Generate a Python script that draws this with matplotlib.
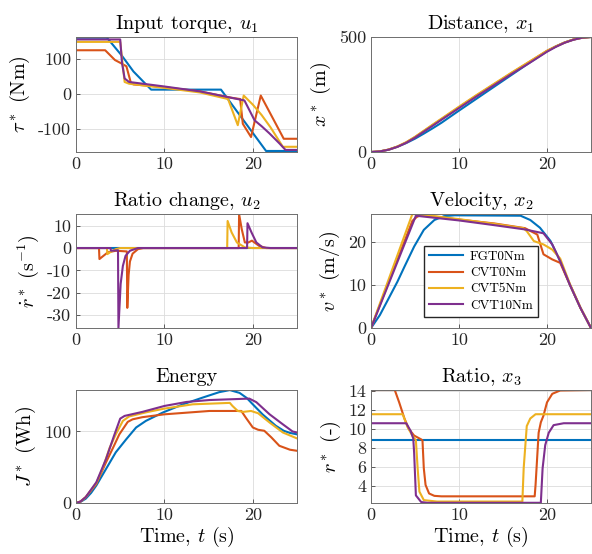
import matplotlib
matplotlib.use("Agg")
import matplotlib.pyplot as plt

plt.rcParams.update({
    "font.family": "serif",
    "font.serif": ["cmr10"],
    "mathtext.fontset": "cm",
    "axes.unicode_minus": False,
    "axes.formatter.use_mathtext": False,
    "font.size": 13,
})

labels = ["FGT0Nm", "CVT0Nm", "CVT5Nm", "CVT10Nm"]
colors = ["#0072BD", "#D95319", "#EDB120", "#7E2F8E"]

# ---- input torque, u1 (Nm)
t_tau_fgt = [0, 3.5, 5.2, 6.5, 8.5, 16.4, 21.5, 25]
tau_fgt = [162, 162, 110, 65, 13, 13, -163, -163]
t_tau_cvt0 = [0, 3.3, 4.4, 5.0, 5.7, 6.2, 6.5, 10, 14, 17.5, 18.57, 18.87, 19.8, 20.9, 23.5, 25]
tau_cvt0 = [126, 126, 98, 90, 80, 33, 28, 20, 8, -10, -14, -85, -123, -4, -128, -128]
t_tau_cvt5 = [0, 5.0, 5.5, 6.0, 10, 14, 17.2, 18.3, 18.97, 20, 21, 22, 23.4, 25]
tau_cvt5 = [150, 150, 35, 30, 18, 5, -14, -89, -4, -30, -60, -95, -151, -151]
t_tau_cvt10 = [0, 5.0, 5.2, 5.5, 6.0, 10, 14, 19.05, 20.2, 21.0, 21.9, 23.0, 23.7, 25]
tau_cvt10 = [157, 157, 90, 45, 35, 22, 8, -18, -75, -92, -113, -141, -160, -160]

# ---- distance, x1 (m)
t_dist = [0, 1, 2, 3, 4, 5, 6, 7, 8, 10, 12, 14, 16, 18, 20, 21, 22, 23, 24, 25]
dist_fgt = [0, 2.5, 10, 23, 39, 58, 80, 103, 127, 180, 232, 284, 336, 388, 438, 459, 476, 489, 497, 500]
dist_cvt0 = [0, 2.6, 10.5, 23.5, 42, 65, 91, 117, 143, 195, 246, 295, 344, 392, 440, 459, 476, 489, 497, 500]
dist_cvt5 = [0, 2.7, 10.7, 24, 42.5, 66, 92.5, 119, 145, 197, 248, 297, 346, 393, 440, 459, 476, 489, 497, 500]
dist_cvt10 = [0, 2.5, 10, 22.5, 40, 62.5, 88.5, 114, 140, 191, 242, 291, 340, 387, 436, 457, 475, 488, 497, 500]

# ---- ratio change, u2 (1/s)
t_du_fgt = [0, 25]
du_fgt = [0, 0]
t_du_cvt0 = [0, 2.6, 2.65, 3.6, 4.5, 5.75, 5.8, 5.95, 6.1, 6.4, 7.0, 7.6, 18.4, 18.45, 18.75, 19.1, 19.5, 19.9, 20.7, 21.5, 25]
du_cvt0 = [0, 0, -4.9, -1.9, -1.2, -1.5, -26.7, -12, -6, -2.5, -0.5, 0, 0, 15.1, 8.4, 2.5, 2.5, 3.3, 1, 0, 0]
t_du_cvt5 = [0, 3.5, 3.55, 4.0, 4.5, 5.0, 17.1, 17.15, 17.6, 18.2, 19.1, 20, 25]
du_cvt5 = [0, 0, -2.7, -1.5, -0.5, 0, 0, 12.1, 7, 2.5, 0.3, 0, 0]
t_du_cvt10 = [0, 3.9, 3.95, 4.75, 4.8, 5.05, 5.3, 5.6, 6.1, 7.0, 19.35, 19.4, 19.85, 20.4, 21.1, 22, 25]
du_cvt10 = [0, 0, -1.2, -1.0, -35.7, -16, -8, -3.5, -1.2, 0, 0, 11.1, 7, 2.5, 0.3, 0, 0]

# ---- velocity, x2 (m/s)
t_v_fgt = [0, 1, 1.9, 3, 3.8, 4.9, 6, 7.2, 8.3, 9.5, 17, 18.1, 19.2, 20.4, 21.5, 22.6, 23.8, 25]
v_fgt = [0, 3, 6.5, 10.8, 14.3, 19, 22.9, 25.2, 26.1, 26.3, 26.2, 25.2, 23.4, 20.3, 15.6, 10.1, 4.7, 0]
t_v_cvt0 = [0, 4.7, 5.2, 5.7, 10, 14, 17.5, 18.9, 19.6, 20.6, 21.5, 22.6, 23.8, 25]
v_cvt0 = [0, 25.0, 25.9, 26.4, 25.3, 24.4, 23.3, 21.8, 17.2, 16, 15.2, 10.1, 4.7, 0]
t_v_cvt5 = [0, 4.7, 6, 10, 14, 17.3, 17.7, 18.5, 19.6, 20.6, 21.5, 22.6, 23.8, 25]
v_cvt5 = [0, 26.6, 26.4, 25.4, 24.3, 23.3, 22.6, 20.3, 19.5, 18.3, 16.2, 10.3, 4.8, 0]
t_v_cvt10 = [0, 5.1, 10, 14, 17.5, 19.6, 20.6, 21.5, 22.6, 23.8, 25]
v_cvt10 = [0, 26.2, 25.1, 24, 23, 22.1, 19.5, 15.6, 10.1, 4.7, 0]

# ---- energy (Wh)
t_e_fgt = [0, 0.5, 1.1, 1.7, 2.3, 3.4, 4.5, 5.7, 6.8, 7.9, 9.8, 12.1, 14.3, 16.2, 17.4, 18.5, 19.3, 20, 21.1, 22.6, 23.5, 24.2, 25]
e_fgt = [0, 1.5, 6, 14, 24.5, 47.7, 70.9, 89.4, 105.6, 114.8, 126.4, 138, 147.3, 155, 157.9, 154, 147, 138, 124, 108, 101, 98, 96]
t_e_cvt0 = [0, 0.5, 1.1, 2.3, 3.4, 4.2, 4.9, 5.85, 6.4, 7.5, 10, 15.1, 18.7, 19.2, 20, 20.6, 21.3, 22.1, 23, 24.2, 25]
e_cvt0 = [0, 2, 8, 26.7, 57, 77.5, 96, 113.4, 117, 120, 124, 128.7, 128.7, 119.5, 105.6, 102.4, 101, 91.7, 80, 74.5, 73]
t_e_cvt5 = [0, 0.5, 1.1, 2.3, 3.0, 3.8, 4.5, 5.3, 6.0, 8, 10, 13.2, 17.4, 17.7, 18.3, 18.9, 19.8, 20.6, 21.9, 23.4, 25]
e_cvt5 = [0, 2, 8.2, 28, 48, 77, 96, 114.8, 121, 127, 132, 138, 140, 135.7, 128.7, 127.4, 128.7, 125.5, 112.5, 98.6, 90.3]
t_e_cvt10 = [0, 0.5, 1.1, 2.3, 3.4, 4.3, 5.0, 5.5, 7.5, 10, 12.5, 15.1, 19.6, 20.4, 21.9, 23.4, 24.5, 25]
e_cvt10 = [0, 2, 8.3, 29, 61.6, 94, 118, 121.8, 127.4, 135.7, 141.3, 144, 146, 141, 124, 110, 100, 98.6]

# ---- ratio, x3 (-)
t_r_fgt = [0, 25]
r_fgt = [8.85, 8.85]
t_r_cvt0 = [0, 2.7, 3.2, 3.8, 4.3, 4.9, 5.7, 5.85, 6.0, 6.2, 6.6, 7.2, 8.0, 18.6, 18.7, 19.05, 19.3, 19.6, 20.0, 20.6, 21.5, 25]
r_cvt0 = [14.1, 14.1, 12.8, 11.1, 10.0, 9.3, 8.9, 8.8, 5.85, 4.1, 3.2, 2.95, 2.9, 2.9, 4.1, 9.6, 10.7, 11.4, 12.8, 13.7, 14.05, 14.1]
t_r_cvt5 = [0, 3.6, 4.15, 4.7, 5.1, 5.3, 5.5, 6.0, 7.5, 17.2, 17.35, 17.7, 18.1, 18.7, 25]
r_cvt5 = [11.55, 11.55, 10.2, 9.3, 8.8, 5.85, 3.4, 2.5, 2.35, 2.35, 5.85, 10.3, 11.1, 11.55, 11.55]
t_r_cvt10 = [0, 4.0, 4.5, 4.8, 4.9, 5.1, 5.7, 6.4, 19.3, 19.5, 19.8, 20.2, 20.75, 21.9, 25]
r_cvt10 = [10.6, 10.6, 9.8, 9.0, 7.5, 3.0, 2.3, 2.22, 2.22, 5.85, 8.3, 9.6, 10.4, 10.6, 10.6]

panels = [
    ("Input torque, $u_1$", r"$\tau^*$ (Nm)",
     [(t_tau_fgt, tau_fgt), (t_tau_cvt0, tau_cvt0), (t_tau_cvt5, tau_cvt5), (t_tau_cvt10, tau_cvt10)],
     (-166, 164), [-100, 0, 100]),
    ("Distance, $x_1$", r"$x^*$ (m)",
     [(t_dist, dist_fgt), (t_dist, dist_cvt0), (t_dist, dist_cvt5), (t_dist, dist_cvt10)],
     (0, 500), [0, 500]),
    ("Ratio change, $u_2$", r"$\dot{r}^*$ (s$^{-1}$)",
     [(t_du_fgt, du_fgt), (t_du_cvt0, du_cvt0), (t_du_cvt5, du_cvt5), (t_du_cvt10, du_cvt10)],
     (-35.7, 15.2), [-30, -20, -10, 0, 10]),
    ("Velocity, $x_2$", r"$v^*$ (m/s)",
     [(t_v_fgt, v_fgt), (t_v_cvt0, v_cvt0), (t_v_cvt5, v_cvt5), (t_v_cvt10, v_cvt10)],
     (0, 26.6), [0, 10, 20]),
    ("Energy", r"$J^*$ (Wh)",
     [(t_e_fgt, e_fgt), (t_e_cvt0, e_cvt0), (t_e_cvt5, e_cvt5), (t_e_cvt10, e_cvt10)],
     (0, 158), [0, 100]),
    ("Ratio, $x_3$", r"$r^*$ (-)",
     [(t_r_fgt, r_fgt), (t_r_cvt0, r_cvt0), (t_r_cvt5, r_cvt5), (t_r_cvt10, r_cvt10)],
     (2.2, 14.1), [4, 6, 8, 10, 12, 14]),
]

# axes boxes in figure fractions (left, bottom, width, height)
col_x = [(0.1284, 0.3733), (0.6267, 0.3716)]
row_y = [(0.7256, 0.2076), (0.4079, 0.2058), (0.0921, 0.2039)]

fig = plt.figure(figsize=(5.92, 5.54), dpi=100)

for i, (title, ylab, series, ylim, yticks) in enumerate(panels):
    r, c = divmod(i, 2)
    ax = fig.add_axes([col_x[c][0], row_y[r][0], col_x[c][1], row_y[r][1]])
    for (t, y), lab, col in zip(series, labels, colors):
        ax.plot(t, y, color=col, lw=1.5, label=lab)
    ax.set_xlim(0, 25)
    ax.set_ylim(*ylim)
    ax.set_xticks([0, 10, 20])
    ax.set_yticks(yticks)
    ax.set_title(title, fontsize=14.5, pad=6)
    ax.set_ylabel(ylab, fontsize=14.5, labelpad=4)
    if r == 2:
        ax.set_xlabel("Time, $t$ (s)", fontsize=14.5, labelpad=1)
    ax.grid(True, color="#dcdcdc", lw=0.6)
    ax.set_axisbelow(True)
    ax.tick_params(direction="in", length=3, width=0.5, labelsize=13, colors="#262626")
    for s in ax.spines.values():
        s.set_color("#6e6e6e")
        s.set_linewidth(0.7)
    if i == 3:
        ax.legend(loc="center", bbox_to_anchor=(0.5, 0.41), fontsize=9.5, frameon=True,
                  fancybox=False, framealpha=1, edgecolor="#262626", handlelength=2.6,
                  labelspacing=0.3, borderpad=0.4, handletextpad=0.5)

fig.savefig("out.png", dpi=100)
